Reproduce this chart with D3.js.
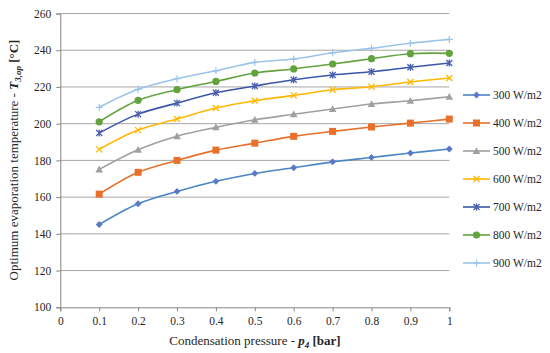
<!DOCTYPE html>
<html><head><meta charset="utf-8">
<script src="https://cdn.jsdelivr.net/npm/d3@7"></script>
<style>body{margin:0;background:#fff}svg{display:block}</style>
</head><body>
<svg id="c" width="550" height="353" font-family="Liberation Serif, DejaVu Serif, serif"></svg>
<script>
const pressures = [0.1,0.2,0.3,0.4,0.5,0.6,0.7,0.8,0.9,1.0];
const seriesNames = ["300 W/m2","400 W/m2","500 W/m2","600 W/m2","700 W/m2","800 W/m2","900 W/m2"];
const s300 = [145.1,156.4,163.1,168.6,172.9,176.0,179.2,181.6,184.0,186.2];
const s400 = [161.6,173.5,180.0,185.6,189.4,193.1,195.8,198.2,200.3,202.5];
const s500 = [175.1,185.8,193.2,198.0,202.1,205.1,208.0,210.7,212.5,214.7];
const s600 = [186.0,196.5,202.5,208.5,212.5,215.4,218.5,220.1,222.7,224.9];
const s700 = [194.9,205.2,211.2,216.8,220.5,223.9,226.5,228.3,230.7,233.0];
const s800 = [201.0,212.7,218.5,223.0,227.6,229.8,232.5,235.4,238.1,238.3];
const s900 = [208.9,218.7,224.5,228.8,233.4,235.2,238.6,241.0,243.8,245.9];
const xTicks = [0,0.1,0.2,0.3,0.4,0.5,0.6,0.7,0.8,0.9,1];
const yTicks = [100,120,140,160,180,200,220,240,260];

const allSeries = [s300,s400,s500,s600,s700,s800,s900];
const colors = ["#4A86C5","#E8702A","#A0A0A0","#FFB800","#3B56A6","#62A33E","#9CC4E8"];
const markerColors = ["#5A78C8","#E8702A","#A0A0A0","#FFB800","#4A5FB0","#62A33E","#9CC4E8"];
const markers = ["diamond","square","triangle","x","star","circle","plus"];
const FF = "Liberation Serif, DejaVu Serif, serif";

const svg = d3.select("#c");
const x = d3.scaleLinear().domain([0,1]).range([60.3,449.3]);
const y = d3.scaleLinear().domain([100,260]).range([307.3,13.5]);

svg.append("g").selectAll("line").data(yTicks.slice(1)).join("line")
  .attr("x1",x(0)).attr("x2",x(1)).attr("y1",d=>y(d)).attr("y2",d=>y(d))
  .attr("stroke","#A6A6A6").attr("stroke-width",1);

const ya = svg.append("g").attr("transform",`translate(${x(0)},0)`)
  .call(d3.axisLeft(y).tickValues(yTicks).tickSize(4).tickPadding(5).tickFormat(d3.format("d")));
ya.attr("font-family",FF).attr("font-size",11.5);
ya.select(".domain").attr("stroke","#868686");
ya.selectAll(".tick line").attr("stroke","#868686");
ya.selectAll("text").attr("fill","#262626");

const xa = svg.append("g").attr("transform",`translate(0,${y(100)})`)
  .call(d3.axisBottom(x).tickValues(xTicks).tickSize(4).tickPadding(6).tickFormat(d=>d===0?"0":d===1?"1":d3.format(".1f")(d)));
xa.attr("font-family",FF).attr("font-size",11.5);
xa.select(".domain").attr("stroke","#868686");
xa.selectAll(".tick line").attr("stroke","#868686");
xa.selectAll("text").attr("fill","#262626");

function drawMarker(g, type, cx, cy, col){
  const s=3.4;
  if(type==="diamond") g.append("path").attr("d",`M${cx},${cy-s}L${cx+s},${cy}L${cx},${cy+s}L${cx-s},${cy}Z`).attr("fill",col);
  else if(type==="square") g.append("rect").attr("x",cx-3.5).attr("y",cy-3.5).attr("width",7).attr("height",7).attr("fill",col);
  else if(type==="triangle") g.append("path").attr("d",`M${cx},${cy-3.8}L${cx+3.8},${cy+3}L${cx-3.8},${cy+3}Z`).attr("fill",col);
  else if(type==="x") g.append("path").attr("d",`M${cx-3},${cy-3}L${cx+3},${cy+3}M${cx-3},${cy+3}L${cx+3},${cy-3}`).attr("stroke",col).attr("stroke-width",1.3);
  else if(type==="star") g.append("path").attr("d",`M${cx-3},${cy-3}L${cx+3},${cy+3}M${cx-3},${cy+3}L${cx+3},${cy-3}M${cx},${cy-3.5}L${cx},${cy+3.5}`).attr("stroke",col).attr("stroke-width",1.3);
  else if(type==="circle") g.append("circle").attr("cx",cx).attr("cy",cy).attr("r",3.6).attr("fill",col);
  else if(type==="plus") g.append("path").attr("d",`M${cx-3.5},${cy}L${cx+3.5},${cy}M${cx},${cy-3.5}L${cx},${cy+3.5}`).attr("stroke",col).attr("stroke-width",1.2);
}

const line = d3.line().x((d,i)=>x(pressures[i])).y(d=>y(d)).curve(d3.curveCatmullRom.alpha(0.5));
allSeries.forEach((s,k)=>{
  svg.append("path").datum(s).attr("d",line).attr("fill","none").attr("stroke",colors[k]).attr("stroke-width",1.6);
  const g = svg.append("g");
  s.forEach((v,i)=>drawMarker(g, markers[k], x(pressures[i]), y(v), markerColors[k]));
});

const lg = svg.append("g");
seriesNames.forEach((n,k)=>{
  const ly = 95 + k*28;
  lg.append("line").attr("x1",463).attr("x2",490).attr("y1",ly).attr("y2",ly).attr("stroke",colors[k]).attr("stroke-width",1.6);
  drawMarker(lg, markers[k], 476.5, ly, markerColors[k]);
  lg.append("text").attr("x",493).attr("y",ly+4).attr("font-size",11.5).attr("fill","#262626").text(n);
});

const xt = svg.append("text").attr("x",255).attr("y",345).attr("text-anchor","middle").attr("font-size",13).attr("fill","#262626");
xt.append("tspan").text("Condensation pressure - ");
xt.append("tspan").attr("font-weight","bold").attr("font-style","italic").text("p");
xt.append("tspan").attr("font-weight","bold").attr("font-style","italic").attr("font-size",9).attr("dy",3).text("4");
xt.append("tspan").attr("font-weight","bold").attr("dy",-3).text(" [bar]");

const yt = svg.append("text").attr("transform","translate(18,160) rotate(-90)").attr("text-anchor","middle").attr("font-size",13).attr("fill","#262626");
yt.append("tspan").text("Optimum evaporation temperature - ");
yt.append("tspan").attr("font-weight","bold").attr("font-style","italic").text("T");
yt.append("tspan").attr("font-weight","bold").attr("font-style","italic").attr("font-size",9).attr("dy",3).text("3,op");
yt.append("tspan").attr("font-weight","bold").attr("dy",-3).text(" [°C]");
</script>
</body></html>
